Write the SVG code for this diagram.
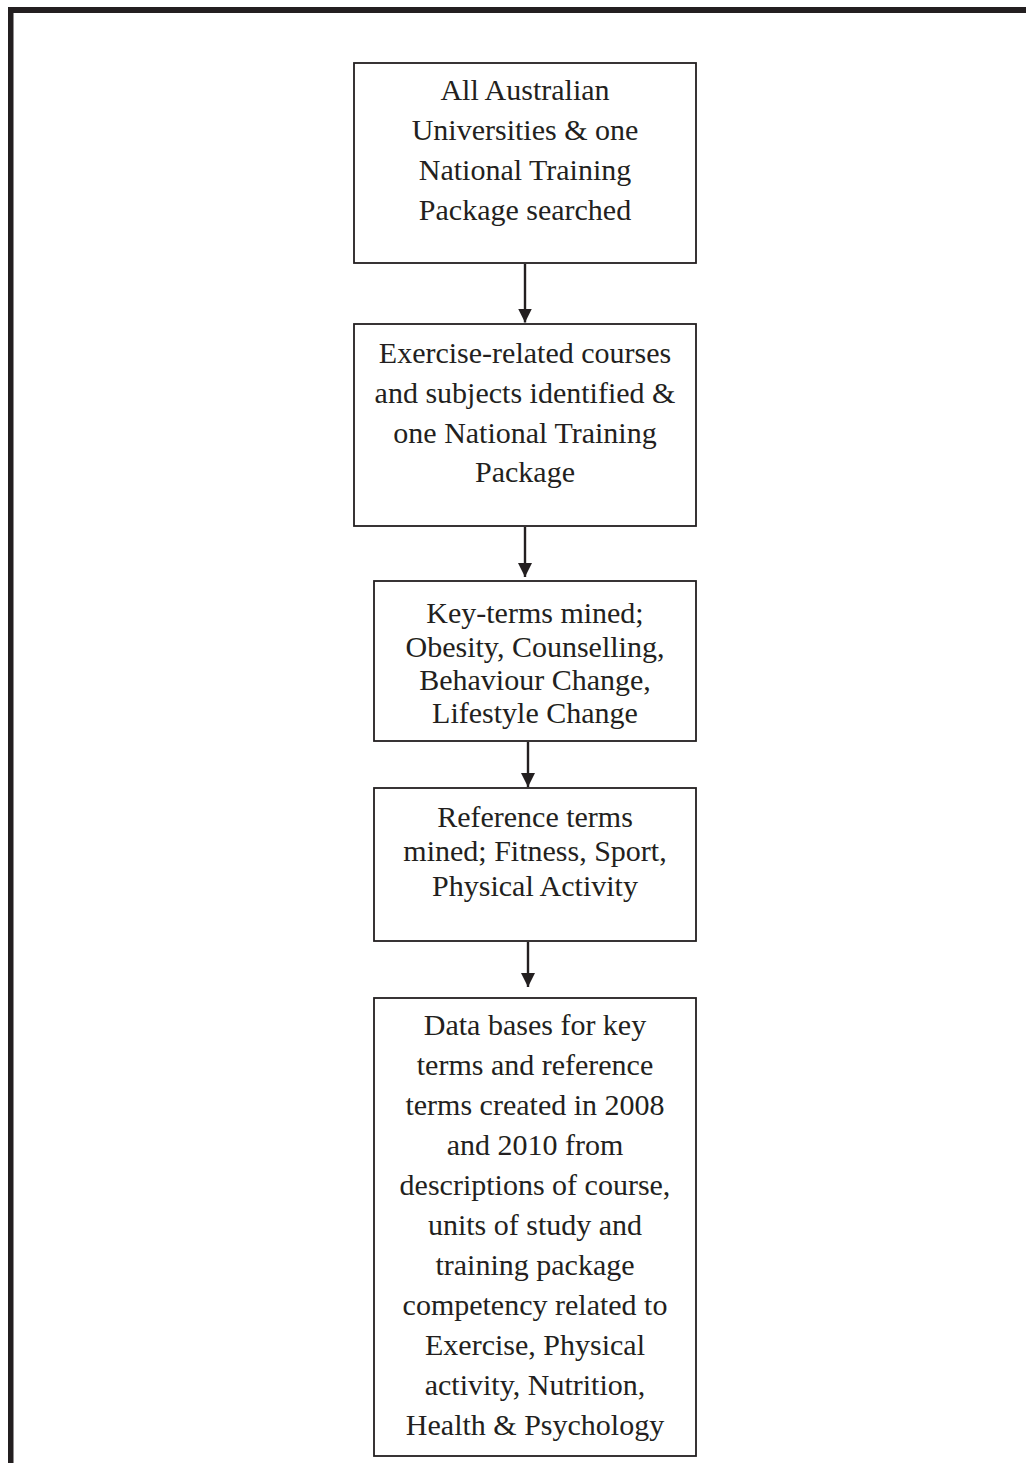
<svg xmlns="http://www.w3.org/2000/svg" width="1026" height="1463" viewBox="0 0 1026 1463">
<style>
.box{fill:#fff;stroke:#231f20;stroke-width:1.8}
.t{font-family:"Liberation Serif","Times New Roman",serif;font-size:30px;fill:#231f20;text-anchor:middle}
.c{stroke:#231f20;stroke-width:2.4;fill:none}
</style>
<defs>
<marker id="ah" markerUnits="userSpaceOnUse" markerWidth="16" markerHeight="16" refX="14" refY="7" orient="auto">
<path d="M0,0 L14,7 L0,14 Z" fill="#231f20"/>
</marker>
</defs>
<rect width="1026" height="1463" fill="#fff"/>
<g id="frame" fill="#231f20">
<rect x="8" y="7" width="1018" height="6"/>
<rect x="8" y="7" width="5.5" height="1456"/>
</g>
<g id="n1">
<rect class="box" x="354" y="63" width="342" height="200"/>
<text class="t" x="525"><tspan x="525" y="100">All Australian</tspan><tspan x="525" y="140">Universities &amp; one</tspan><tspan x="525" y="180">National Training</tspan><tspan x="525" y="220">Package searched</tspan></text>
</g>
<g id="n2">
<rect class="box" x="354" y="324" width="342" height="202"/>
<text class="t" x="525"><tspan x="525" y="363">Exercise-related courses</tspan><tspan x="525" y="403">and subjects identified &amp;</tspan><tspan x="525" y="443">one National Training</tspan><tspan x="525" y="482">Package</tspan></text>
</g>
<g id="n3">
<rect class="box" x="374" y="581" width="322" height="160"/>
<text class="t" x="535"><tspan x="535" y="623">Key-terms mined;</tspan><tspan x="535" y="657">Obesity, Counselling,</tspan><tspan x="535" y="690">Behaviour Change,</tspan><tspan x="535" y="723">Lifestyle Change</tspan></text>
</g>
<g id="n4">
<rect class="box" x="374" y="788" width="322" height="153"/>
<text class="t" x="535"><tspan x="535" y="827">Reference terms</tspan><tspan x="535" y="861">mined; Fitness, Sport,</tspan><tspan x="535" y="896">Physical Activity</tspan></text>
</g>
<g id="n5">
<rect class="box" x="374" y="998" width="322" height="458"/>
<text class="t" x="535"><tspan x="535" y="1035">Data bases for key</tspan><tspan x="535" y="1075">terms and reference</tspan><tspan x="535" y="1115">terms created in 2008</tspan><tspan x="535" y="1155">and 2010 from</tspan><tspan x="535" y="1195">descriptions of course,</tspan><tspan x="535" y="1235">units of study and</tspan><tspan x="535" y="1275">training package</tspan><tspan x="535" y="1315">competency related to</tspan><tspan x="535" y="1355">Exercise, Physical</tspan><tspan x="535" y="1395">activity, Nutrition,</tspan><tspan x="535" y="1435">Health &amp; Psychology</tspan></text>
</g>
<g id="connectors">
<line class="c" x1="525" y1="264" x2="525" y2="322.5" marker-end="url(#ah)"/>
<line class="c" x1="525" y1="527" x2="525" y2="577" marker-end="url(#ah)"/>
<line class="c" x1="528" y1="742" x2="528" y2="787" marker-end="url(#ah)"/>
<line class="c" x1="528" y1="942" x2="528" y2="987" marker-end="url(#ah)"/>
</g>
</svg>
